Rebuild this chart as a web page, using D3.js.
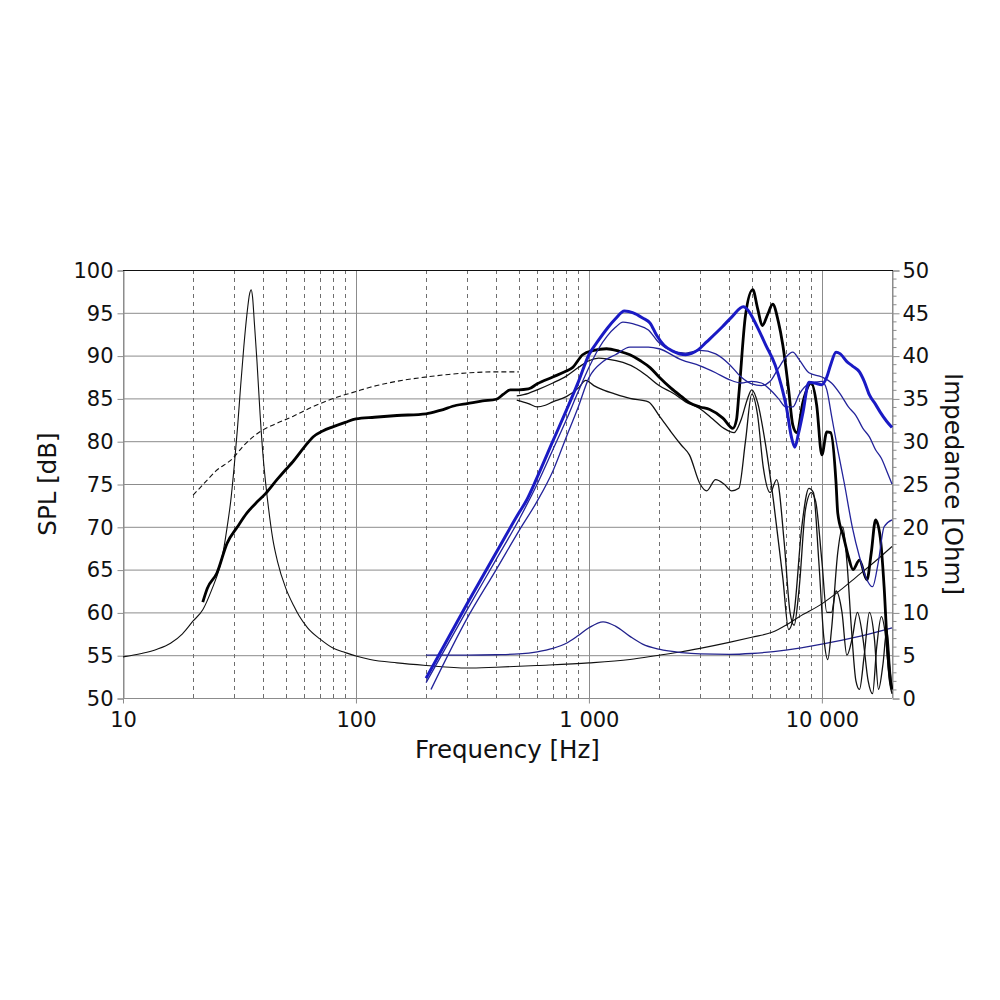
<!DOCTYPE html>
<html>
<head>
<meta charset="utf-8">
<script src="https://cdn.jsdelivr.net/npm/d3@7"></script>
<style>
  body { margin: 0; background: #fff; }
  svg { display: block; }
  text { font-family: "DejaVu Sans", Verdana, sans-serif; fill: #111; }
</style>
</head>
<body>
<div id="chart"></div>
<script>
// ---- data (frequency in Hz, SPL in dB, impedance in Ohm) ----
var freqTicks = [10, 100, 1000, 10000];
var freqTickLabels = ["10", "100", "1 000", "10 000"];
var splTicks = [50, 55, 60, 65, 70, 75, 80, 85, 90, 95, 100];
var impTicks = [0, 5, 10, 15, 20, 25, 30, 35, 40, 45, 50];

// woofer impedance (thin black)
var wooferImp = [[10,4.8],[12,5.2],[14,5.7],[16,6.4],[18,7.5],[20,9.0],[22,10.3],[24,12.6],[26,15.3],[27,17.3],[28,20],[29,23],[30,27],[31,31.5],[32,36.5],[33,41],[34,44.7],[35,47.3],[35.5,47.7],[36,46.8],[36.6,44],[37.6,39.3],[38.8,33],[40,28],[41,25],[42,22.5],[44,18.5],[46,16],[50,12.8],[54,10.8],[57,9.6],[62,8.2],[70,6.9],[80,5.8],[90,5.3],[100,4.9],[115,4.5],[150,4.1],[200,3.8],[300,3.5],[400,3.6],[600,3.8],[1000,4.1],[1500,4.5],[2000,5.0],[2500,5.4],[3000,5.8],[4000,6.5],[5000,7.1],[6150,7.7],[7000,8.5],[8000,9.5],[10000,11],[12000,12.6],[14000,14.1],[17000,16],[20000,17.7]];

// tweeter impedance (thin navy)
var tweeterImp = [[200,5.0],[300,5.0],[400,5.05],[500,5.15],[600,5.4],[700,5.8],[800,6.4],[900,7.3],[1000,8.2],[1150,8.9],[1300,8.4],[1500,7.2],[1700,6.3],[2000,5.7],[2500,5.3],[3000,5.15],[4000,5.1],[5000,5.2],[7000,5.6],[10000,6.3],[14000,7.1],[20000,8.2]];

// woofer half-space / simulated response (dashed)
var wooferSim = [[20,73.7],[22,74.9],[25,76.5],[29.6,78],[33,79.5],[38.7,81.1],[45,82],[53.6,82.9],[65,84],[80,85],[100,85.8],[115,86.3],[150,87],[200,87.5],[250,87.8],[310,88],[400,88.1],[500,88.1]];

// woofer on-axis (thick black)
var woofer0 = [[22,61.2],[23,62.8],[25.3,64.6],[28,68.1],[31,70],[34,71.6],[37,72.7],[41,73.9],[45.8,75.5],[50,76.7],[53.6,77.6],[60,79.3],[65.4,80.5],[72,81.2],[80,81.7],[90,82.2],[100,82.6],[120,82.8],[150,83],[200,83.2],[230,83.6],[270,84.2],[300,84.4],[350,84.7],[400,84.9],[430,85.5],[460,86],[500,86],[550,86.1],[600,86.7],[700,87.5],[800,88.2],[850,88.6],[940,90.1],[1050,90.6],[1190,90.8],[1350,90.5],[1500,90.1],[1665,89.4],[1830,88.6],[2000,87.5],[2250,86.2],[2500,85.2],[2700,84.5],[3000,84],[3300,83.7],[3760,82.7],[4150,81.5],[4300,82.5],[4400,85.4],[4700,94.7],[5050,97.7],[5300,95.5],[5550,93.5],[5850,94.8],[6150,96],[6500,94],[6800,91.2],[7200,86],[7500,81.9],[7800,81],[8300,84.6],[9000,86.8],[9500,84.2],[10000,78.4],[10500,81.1],[10900,81],[11500,75.2],[11700,71.6],[12400,68.8],[13000,66.5],[13600,65],[14500,66.1],[15600,63.8],[16300,67],[17000,70.8],[17800,68.8],[18500,63],[19100,56],[19700,52],[20000,51]];

// woofer 30 deg (thin black)
var woofer30 = [[490,85.3],[550,85.6],[600,86],[700,86.8],[800,87.6],[900,88.6],[1000,89.4],[1100,89.7],[1200,89.6],[1400,89.2],[1600,88.5],[1800,87.5],[2000,86.5],[2300,85.6],[2600,84.6],[3000,83.8],[3400,82.6],[3800,81.5],[4200,81],[4500,82.5],[4800,85],[5000,86],[5300,84.5],[5700,80],[6200,73],[6800,64],[7200,58],[7600,60],[8200,70],[8800,74.5],[9200,74],[9700,66],[10200,57],[10600,54.5],[11000,58],[11700,67],[12300,70],[12800,66],[13400,58],[14000,52],[14500,51],[15200,55],[16000,60],[16800,57],[17500,51],[18300,54],[19000,58],[19700,53],[20000,51]];

// woofer 60 deg (thin black)
var woofer60 = [[490,84.8],[550,84.4],[600,84],[650,84.2],[700,84.6],[800,85.2],[900,86.2],[970,87.1],[1050,86.5],[1150,86],[1300,85.5],[1500,85],[1800,84.6],[2000,83],[2250,81.1],[2500,79.5],[2700,78.4],[3000,75],[3200,74.2],[3500,75.5],[3800,75],[4100,74.2],[4400,74.5],[4700,80],[5000,85.5],[5300,83],[5600,77],[6000,74],[6400,75.5],[6900,68],[7300,60],[7600,58.5],[8000,63],[8500,72],[9000,74],[9400,73],[10000,66],[10500,60],[11000,60],[11500,62.5],[12200,60],[12800,55],[13500,57],[14200,60],[15000,57],[15800,52],[16500,50.5],[17200,56],[18000,59.5],[18800,57],[19500,52],[20000,50.5]];

// tweeter on-axis (thick blue)
var tweeter0 = [[200,52.3],[300,61],[400,67],[500,71.6],[540,73.1],[600,75.8],[700,80],[800,83.6],[900,86.9],[1000,90.1],[1100,91.8],[1200,93.2],[1300,94.3],[1420,95.2],[1550,95],[1700,94.4],[1830,93.8],[1950,92.4],[2100,91.2],[2300,90.5],[2600,90.1],[2950,90.7],[3200,91.6],[3750,93.4],[4100,94.5],[4600,95.7],[4850,95.2],[5050,94.4],[5400,92.8],[5750,91.2],[6300,88.9],[6700,86.5],[7050,83.9],[7400,80.5],[7650,79.3],[7950,81],[8300,83.4],[8800,86.9],[9300,86.8],[10000,86.6],[10500,87.5],[10900,88.9],[11500,90.4],[12000,90.2],[12800,89.3],[13500,88.8],[14500,88.1],[15200,87],[16000,85.4],[17000,84.3],[17800,83.4],[19000,82.3],[20000,81.6]];

// tweeter 30 deg (thin blue)
var tweeter30 = [[200,51.8],[300,60.3],[400,66.2],[500,70.8],[600,75],[700,79],[800,82.5],[900,85.8],[1000,88.6],[1100,90.8],[1200,92.3],[1300,93.3],[1400,93.9],[1600,93.6],[1800,93],[2000,91.5],[2250,90.6],[2600,90.3],[3000,90.6],[3500,90.2],[4000,89],[4500,87.5],[5000,86.7],[5500,86.5],[6000,87],[6500,88.5],[7000,89.8],[7500,90.4],[8000,89.5],[8800,88],[10000,87.5],[11000,86.8],[12000,85.5],[13000,84],[14000,83],[15000,81.5],[16000,80.5],[17000,79],[18000,78],[19000,76.5],[20000,75]];

// tweeter 60 deg (thin blue)
var tweeter60 = [[210,51],[300,59.3],[400,65],[500,69.5],[600,73],[700,76.5],[800,80.5],[900,84],[1000,87.4],[1150,89.3],[1300,90.1],[1500,91],[1800,91],[2000,90.8],[2500,89.5],[3000,88.8],[3500,88],[4000,87.2],[4500,86.8],[5000,87],[5500,86.8],[6000,86],[6500,85],[7000,84],[7500,84],[8000,85.5],[8800,86.7],[10000,87],[10500,86],[11000,83],[11700,79],[12500,75],[13500,70],[14500,66.5],[15500,64],[16500,63],[17500,66],[18500,70],[20000,70.8]];

// ---- chart ----
var width = 1000, height = 1000;
var plotLeft = 123, plotRight = 892, plotTop = 270, plotBottom = 698;

var svg = d3.select("#chart").append("svg")
  .attr("width", width)
  .attr("height", height);

svg.append("rect").attr("width", width).attr("height", height).attr("fill", "#fff");

var x = d3.scaleLog().domain([10, 20000]).range([plotLeft, plotRight]);
var ySpl = d3.scaleLinear().domain([50, 100]).range([plotBottom, plotTop]);
var yImp = d3.scaleLinear().domain([0, 50]).range([plotBottom, plotTop]);

var gridColor = "#8c8c8c";

// horizontal grid
svg.append("g").selectAll("line")
  .data(splTicks)
  .enter().append("line")
  .attr("x1", plotLeft).attr("x2", plotRight)
  .attr("y1", d => ySpl(d) + 0.5).attr("y2", d => ySpl(d) + 0.5)
  .attr("stroke", gridColor)
  .attr("stroke-width", 1);

// vertical minor (dashed) grid
var minorFreqs = [];
[10, 100, 1000].forEach(function (dec) {
  for (var k = 2; k <= 9; k++) minorFreqs.push(dec * k);
});

svg.append("g").selectAll("line")
  .data(minorFreqs)
  .enter().append("line")
  .attr("x1", d => Math.round(x(d)) + 0.5).attr("x2", d => Math.round(x(d)) + 0.5)
  .attr("y1", plotTop).attr("y2", plotBottom)
  .attr("stroke", "#6e6e6e")
  .attr("stroke-width", 1)
  .attr("stroke-dasharray", "4,4");

// vertical major grid
svg.append("g").selectAll("line")
  .data([100, 1000, 10000])
  .enter().append("line")
  .attr("x1", d => Math.round(x(d)) + 0.5).attr("x2", d => Math.round(x(d)) + 0.5)
  .attr("y1", plotTop).attr("y2", plotBottom)
  .attr("stroke", gridColor)
  .attr("stroke-width", 1);

// frame
svg.append("line")
  .attr("x1", plotLeft + 0.5).attr("x2", plotLeft + 0.5).attr("y1", plotTop).attr("y2", plotBottom)
  .attr("stroke", gridColor);
svg.append("line")
  .attr("x1", plotRight + 0.5).attr("x2", plotRight + 0.5).attr("y1", plotTop).attr("y2", plotBottom)
  .attr("stroke", gridColor);

// axes
var axisLeft = svg.append("g")
  .attr("transform", "translate(" + (plotLeft + 0.5) + ",0.5)")
  .call(d3.axisLeft(ySpl).tickValues(splTicks).tickSize(6).tickPadding(4));

var axisBottom = svg.append("g")
  .attr("transform", "translate(0," + (plotBottom + 0.5) + ")")
  .call(d3.axisBottom(x).tickValues(freqTicks)
    .tickFormat((d, i) => freqTickLabels[i]).tickSize(5).tickPadding(9));

var axisRight = svg.append("g")
  .attr("transform", "translate(" + (plotRight + 0.5) + ",0.5)")
  .call(d3.axisRight(yImp).tickValues(impTicks).tickSize(7).tickPadding(3));

// minor ticks on right axis
svg.append("g")
  .attr("transform", "translate(" + (plotRight + 0.5) + ",0.5)")
  .selectAll("line")
  .data(d3.range(0, 51).filter(d => d % 5 !== 0))
  .enter().append("line")
  .attr("x1", 0).attr("x2", 4)
  .attr("y1", d => yImp(d)).attr("y2", d => yImp(d))
  .attr("stroke", gridColor);

[axisLeft, axisBottom, axisRight].forEach(function (g) {
  g.select(".domain").attr("stroke", gridColor);
  g.selectAll(".tick line").attr("stroke", gridColor);
  g.selectAll(".tick text")
    .style("font-family", "'DejaVu Sans', Verdana, sans-serif")
    .style("font-size", "21px")
    .attr("fill", "#111");
});
axisBottom.select(".domain").remove();

// top border is dark
svg.append("line")
  .attr("x1", plotLeft).attr("x2", plotRight + 1).attr("y1", plotTop + 0.5).attr("y2", plotTop + 0.5)
  .attr("stroke", "#111").attr("stroke-width", 1.2);

// axis titles
svg.append("text")
  .attr("x", (plotLeft + plotRight) / 2)
  .attr("y", 758)
  .attr("text-anchor", "middle")
  .style("font-size", "24.5px")
  .text("Frequency [Hz]");

svg.append("text")
  .attr("transform", "translate(56," + ((plotTop + plotBottom) / 2) + ") rotate(-90)")
  .attr("text-anchor", "middle")
  .style("font-size", "24.5px")
  .text("SPL [dB]");

svg.append("text")
  .attr("transform", "translate(945," + ((plotTop + plotBottom) / 2) + ") rotate(90)")
  .attr("text-anchor", "middle")
  .style("font-size", "24.5px")
  .text("Impedance [Ohm]");

// curves
svg.append("clipPath").attr("id", "plot-clip")
  .append("rect")
  .attr("x", plotLeft).attr("y", plotTop - 2)
  .attr("width", plotRight - plotLeft + 1).attr("height", plotBottom - plotTop + 2);

var curves = svg.append("g").attr("clip-path", "url(#plot-clip)");

var splLine = d3.line()
  .x(d => x(d[0]))
  .y(d => ySpl(d[1]))
  .curve(d3.curveMonotoneX);

var impLine = d3.line()
  .x(d => x(d[0]))
  .y(d => yImp(d[1]))
  .curve(d3.curveMonotoneX);

var series = [
  { data: wooferImp, line: impLine, color: "#111", width: 1.1 },
  { data: tweeterImp, line: impLine, color: "#22228c", width: 1.3 },
  { data: wooferSim, line: splLine, color: "#111", width: 1.1, dash: "5,3" },
  { data: woofer60, line: splLine, color: "#111", width: 1.3 },
  { data: woofer30, line: splLine, color: "#111", width: 1.3 },
  { data: woofer0, line: splLine, color: "#000", width: 2.8 },
  { data: tweeter60, line: splLine, color: "#23239a", width: 1.3 },
  { data: tweeter30, line: splLine, color: "#23239a", width: 1.3 },
  { data: tweeter0, line: splLine, color: "#1a1ac4", width: 3 }
];

curves.selectAll("path")
  .data(series)
  .enter().append("path")
  .attr("d", d => d.line(d.data))
  .attr("fill", "none")
  .attr("stroke", d => d.color)
  .attr("stroke-width", d => d.width)
  .attr("stroke-linejoin", "round")
  .attr("stroke-dasharray", d => d.dash || null);
</script>
</body>
</html>
